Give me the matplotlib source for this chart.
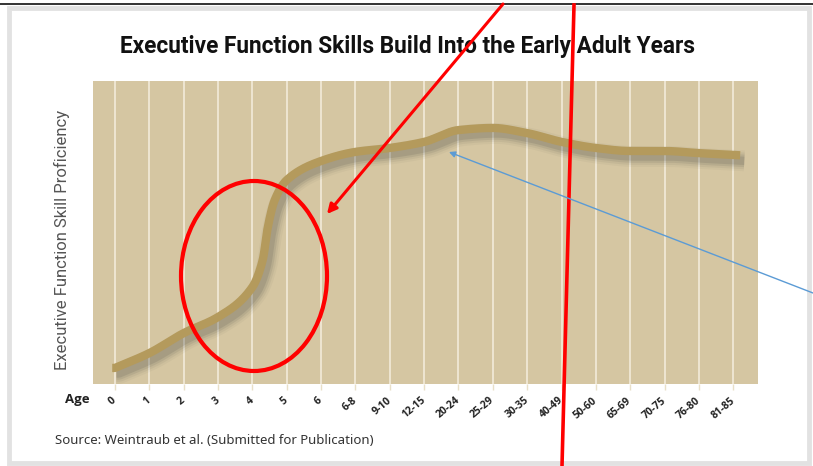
import numpy as np
import matplotlib
matplotlib.use("Agg")
import matplotlib.pyplot as plt
import matplotlib.patheffects as pe
import matplotlib.transforms as mtransforms
from matplotlib.patches import Ellipse, Rectangle

# age groups on the x axis
ages = ["0", "1", "2", "3", "4", "5", "6", "6-8", "9-10", "12-15", "20-24",
        "25-29", "30-35", "40-49", "50-60", "65-69", "70-75", "76-80", "81-85"]

# curve readings (position in age slots, proficiency 0-100)
curve_pos = [0, 1, 2, 3, 4, 4.3, 4.45, 4.65, 5, 6, 7, 8, 9, 10, 11, 12, 13, 14, 15, 16, 17, 18]
curve_val = [5.3, 10.2, 16.8, 22.1, 32.0, 40.9, 51.8, 60.7, 67.3, 73.6, 76.6, 77.9, 79.9,
             83.8, 84.5, 82.8, 79.9, 77.9, 76.9, 76.9, 76.2, 75.6]


def pchip(x, y, xs):
    x = np.asarray(x, float); y = np.asarray(y, float)
    h = np.diff(x); d = np.diff(y) / h
    m = np.zeros_like(y)
    for k in range(1, len(x) - 1):
        if d[k - 1] * d[k] > 0:
            w1 = 2 * h[k] + h[k - 1]; w2 = h[k] + 2 * h[k - 1]
            m[k] = (w1 + w2) / (w1 / d[k - 1] + w2 / d[k])
    m[0] = d[0]; m[-1] = d[-1]
    idx = np.clip(np.searchsorted(x, xs) - 1, 0, len(x) - 2)
    t = (xs - x[idx]) / h[idx]
    h00 = 2 * t**3 - 3 * t**2 + 1; h10 = t**3 - 2 * t**2 + t
    h01 = -2 * t**3 + 3 * t**2; h11 = t**3 - t**2
    return h00 * y[idx] + h10 * h[idx] * m[idx] + h01 * y[idx + 1] + h11 * h[idx] * m[idx + 1]


fig = plt.figure(figsize=(8.13, 4.66), dpi=100, facecolor="white")

# slide frame
bg = fig.add_axes([0, 0, 1, 1], zorder=0)
bg.set_xlim(0, 813); bg.set_ylim(466, 0); bg.axis("off")
bg.add_patch(Rectangle((9, 8), 800, 455, fill=False, ec="#e2e2e2", lw=3.5))
bg.plot([0, 813], [4, 4], color="#333333", lw=1.4)

ax = fig.add_axes([93 / 813, 1 - 384 / 466, 665 / 813, 303 / 466], zorder=1)
ax.set_facecolor("#d5c6a2")
for s in ax.spines.values():
    s.set_visible(False)
ax.set_xlim(-0.64, 18.72)
ax.set_ylim(0, 100)
ax.set_yticks([])
ax.set_xticks(range(len(ages)))
ax.set_xticklabels([])
ax.tick_params(axis="x", length=4, width=1, color="#e9e0c8")
ax.grid(axis="x", color="#f2ebda", lw=1.2)
ax.set_axisbelow(True)

# slanted age labels, anchored just below-left of each tick
lab_tr = (mtransforms.blended_transform_factory(ax.transData, ax.transAxes)
          + mtransforms.ScaledTranslation(-3.5 / 100, -11 / 100, fig.dpi_scale_trans))
for i, lab in enumerate(ages):
    ax.text(i, 0, lab, transform=lab_tr, rotation=40, ha="right", va="top",
            rotation_mode="anchor", fontsize=7.5, fontweight="bold", color="#222222",
            family="Open Sans", clip_on=False)

xs = np.linspace(curve_pos[0] - 0.08, curve_pos[-1] + 0.2, 600)
ys = pchip(curve_pos, curve_val, np.clip(xs, curve_pos[0], curve_pos[-1]))
ys = np.where(xs > curve_pos[-1], curve_val[-1] - (xs - curve_pos[-1]) * 0.6, ys)
shadow = [pe.SimpleLineShadow(offset=(3, -4), shadow_color="#333333", alpha=a, linewidth=w)
          for a, w in [(0.04, 15), (0.06, 12), (0.09, 9), (0.12, 6)]]
ax.plot(xs, ys, color="#b49a5c", lw=6, solid_capstyle="butt", zorder=3,
        path_effects=shadow + [pe.Normal()])

fig.text(407 / 813, 1 - 46 / 466, "Executive Function Skills Build Into the Early Adult Years",
         ha="center", va="center", fontsize=16.3, fontweight="bold", color="#111111",
         family="Roboto")
fig.text(62 / 813, 1 - 240 / 466, "Executive Function Skill Proficiency", rotation=90,
         ha="center", va="center", fontsize=12, color="#555555", family="Roboto")
fig.text(77 / 813, 1 - 400 / 466, "Age", ha="center", va="center", fontsize=9.5,
         fontweight="bold", color="#222222", family="Open Sans")
fig.text(55 / 813, 1 - 440 / 466, "Source: Weintraub et al. (Submitted for Publication)",
         ha="left", va="center", fontsize=9.5, color="#333333", family="Noto Sans")

# hand-drawn annotations on top of the screenshot
ov = fig.add_axes([0, 0, 1, 1], zorder=5)
ov.set_xlim(0, 813); ov.set_ylim(466, 0); ov.axis("off")
ov.patch.set_alpha(0)
ov.add_patch(Ellipse((254, 276), 146, 190, fill=False, ec="red", lw=3))
ov.annotate("", xy=(327, 214), xytext=(503, 4),
            arrowprops=dict(arrowstyle="-|>", color="red", lw=2.2, mutation_scale=14,
                            shrinkA=0, shrinkB=0))
ov.plot([574, 562], [5, 466], color="red", lw=2.6)
ov.annotate("", xy=(449, 152), xytext=(813, 293),
            arrowprops=dict(arrowstyle="-|>", color="#5b9bd5", lw=1.0, mutation_scale=9,
                            shrinkA=0, shrinkB=0))

fig.savefig("out.png", dpi=100)
